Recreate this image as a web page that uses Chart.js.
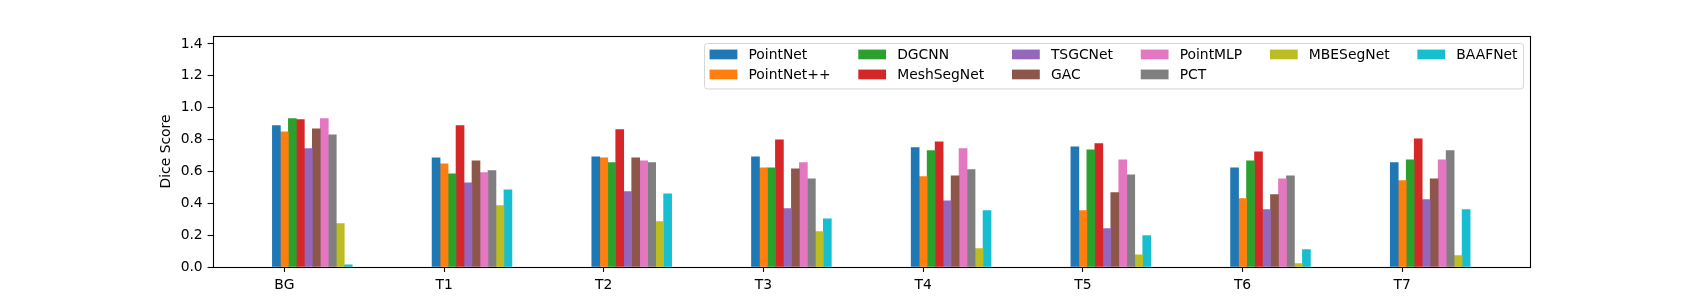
<!DOCTYPE html>
<html>
<head>
<meta charset="utf-8">
<script src="https://cdn.jsdelivr.net/npm/chart.js@4.4.1/dist/chart.umd.min.js"></script>
<style>
  html, body { margin: 0; padding: 0; background: #fff; }
</style>
</head>
<body>
<canvas id="diceChart" width="1700" height="300"></canvas>
<script>
// categories (tooth classes) and per-method Dice scores
const categories = ['BG', 'T1', 'T2', 'T3', 'T4', 'T5', 'T6', 'T7'];
const seriesNames = ['PointNet', 'PointNet++', 'DGCNN', 'MeshSegNet', 'TSGCNet',
                     'GAC', 'PointMLP', 'PCT', 'MBESegNet', 'BAAFNet'];

const pointNet   = [0.887, 0.686, 0.692, 0.692, 0.749, 0.755, 0.623, 0.655];
const pointNetPP = [0.849, 0.648, 0.686, 0.623, 0.567, 0.354, 0.429, 0.542];
const dgcnn      = [0.931, 0.585, 0.655, 0.623, 0.730, 0.736, 0.667, 0.673];
const meshSegNet = [0.925, 0.887, 0.862, 0.799, 0.786, 0.774, 0.723, 0.805];
const tsgcNet    = [0.743, 0.529, 0.473, 0.366, 0.416, 0.241, 0.360, 0.423];
const gac        = [0.868, 0.667, 0.686, 0.617, 0.573, 0.467, 0.454, 0.554];
const pointMLP   = [0.931, 0.592, 0.667, 0.655, 0.743, 0.673, 0.554, 0.673];
const pct        = [0.830, 0.605, 0.655, 0.554, 0.611, 0.579, 0.573, 0.730];
const mbeSegNet  = [0.272, 0.385, 0.285, 0.222, 0.115, 0.077, 0.021, 0.071];
const baafNet    = [0.014, 0.485, 0.460, 0.303, 0.354, 0.197, 0.109, 0.360];

const yTicks = [0.0, 0.2, 0.4, 0.6, 0.8, 1.0, 1.2, 1.4];

const series = [pointNet, pointNetPP, dgcnn, meshSegNet, tsgcNet,
                gac, pointMLP, pct, mbeSegNet, baafNet];
const colors = ['#1f77b4', '#ff7f0e', '#2ca02c', '#d62728', '#9467bd',
                '#8c564b', '#e377c2', '#7f7f7f', '#bcbd22', '#17becf'];

const barW = 0.05;   // bar width in category units
const FS = 13.89;    // 10pt at 100 dpi
const FONT = "'DejaVu Sans', 'Liberation Sans', sans-serif";
const legendCols = 6;

Chart.defaults.font.family = FONT;
Chart.defaults.font.size = FS;
Chart.defaults.color = '#000';

// frame + matplotlib-style legend inside the axes
const frameAndLegend = {
    id: 'frameAndLegend',
    afterDraw(chart) {
        const ctx = chart.ctx;
        const area = chart.chartArea;
        ctx.save();

        // spines
        ctx.strokeStyle = '#000';
        ctx.lineWidth = 1.1;
        ctx.strokeRect(Math.round(area.left) + 0.5, Math.round(area.top) + 0.5,
                       Math.round(area.right) - Math.round(area.left),
                       Math.round(area.bottom) - Math.round(area.top));

        // legend: fill columns like matplotlib (first columns get the extra item)
        ctx.font = FS + 'px ' + FONT;
        const n = seriesNames.length;
        const base = Math.floor(n / legendCols), extra = n % legendCols;
        const columns = [];
        let k = 0;
        for (let c = 0; c < legendCols; c++) {
            const size = base + (c < extra ? 1 : 0);
            const col = [];
            for (let r = 0; r < size; r++) col.push(k++);
            columns.push(col);
        }
        const handleLen = 2.0 * FS, handleH = 0.7 * FS, textPad = 0.8 * FS;
        const colGap = 2.0 * FS, border = 0.4 * FS;
        const colW = columns.map(col =>
            handleLen + textPad + Math.max(...col.map(i => ctx.measureText(seriesNames[i]).width)));
        const boxW = colW.reduce((a, b) => a + b, 0) + colGap * (legendCols - 1) + 2 * border;
        const boxH = 45.5;
        const boxR = area.right - 0.5 * FS;
        const boxT = area.top + 0.5 * FS;
        const boxL = boxR - boxW;

        ctx.beginPath();
        ctx.roundRect(boxL + 0.5, boxT + 0.5, boxW, boxH, 3);
        ctx.fillStyle = 'rgba(255,255,255,0.8)';
        ctx.fill();
        ctx.strokeStyle = 'rgba(204,204,204,0.8)';
        ctx.lineWidth = 1;
        ctx.stroke();

        const rowY = [boxT + 11.5, boxT + 31.5];
        let x = boxL + border;
        columns.forEach((col, c) => {
            col.forEach((i, r) => {
                ctx.fillStyle = colors[i];
                ctx.fillRect(x, rowY[r] - handleH / 2, handleLen, handleH);
                ctx.fillStyle = '#000';
                ctx.textAlign = 'left';
                ctx.textBaseline = 'middle';
                ctx.fillText(seriesNames[i], x + handleLen + textPad, rowY[r] + 1);
            });
            x += colW[c] + colGap;
        });
        ctx.restore();
    }
};

const ctx = document.getElementById('diceChart').getContext('2d');
const diceChart = new Chart(ctx, {
    type: 'bar',
    data: {
        datasets: series.map((vals, j) => ({
            label: seriesNames[j],
            data: vals.map((v, i) => ({ x: i + (j - 1) * barW, y: v })),
            backgroundColor: colors[j],
            borderWidth: 0,
            grouped: false,
            categoryPercentage: 1.0,
            barPercentage: 1.0
        }))
    },
    options: {
        responsive: false,
        animation: false,
        devicePixelRatio: 1,
        layout: {
            padding: { left: 150, right: 170, top: 36, bottom: 0 }
        },
        plugins: {
            legend: { display: false },
            tooltip: { enabled: false }
        },
        scales: {
            x: {
                type: 'linear',
                min: -0.45,
                max: 7.8,
                offset: false,
                afterFit: (scale) => { scale.height = 33; },
                afterBuildTicks: (scale) => {
                    scale.ticks = categories.map((c, i) => ({ value: i }));
                },
                grid: {
                    offset: false,
                    drawOnChartArea: false,
                    drawTicks: true,
                    tickLength: 4.9,
                    tickWidth: 1.1,
                    color: '#000'
                },
                border: { display: false },
                ticks: {
                    autoSkip: false,
                    maxRotation: 0,
                    padding: 4.9,
                    color: '#000',
                    callback: (v) => categories[Math.round(v)]
                }
            },
            y: {
                min: 0,
                max: 1.45,
                afterFit: (scale) => { scale.width = 62.5; },
                afterBuildTicks: (scale) => {
                    scale.ticks = yTicks.map(v => ({ value: v }));
                },
                grid: {
                    drawOnChartArea: false,
                    drawTicks: true,
                    tickLength: 4.9,
                    tickWidth: 1.1,
                    color: '#000'
                },
                border: { display: false },
                title: {
                    display: true,
                    text: 'Dice Score',
                    color: '#000',
                    font: { size: FS },
                    padding: { top: 8.4, bottom: 0 }
                },
                ticks: {
                    padding: 4.9,
                    color: '#000',
                    callback: (v) => Number(v).toFixed(1)
                }
            }
        }
    },
    plugins: [frameAndLegend]
});
</script>
</body>
</html>
